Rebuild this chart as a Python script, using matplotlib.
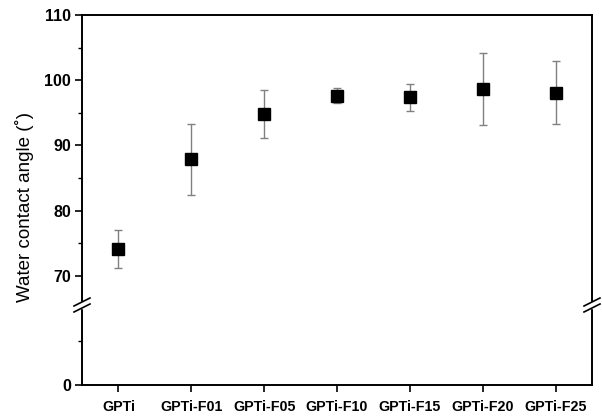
import matplotlib
matplotlib.use("Agg")
import matplotlib.pyplot as plt
from matplotlib.lines import Line2D
from matplotlib.ticker import FixedLocator

plt.rcParams["font.family"] = ["Liberation Sans", "DejaVu Sans"]

# Data
samples = ["GPTi", "GPTi-F01", "GPTi-F05", "GPTi-F10", "GPTi-F15", "GPTi-F20", "GPTi-F25"]
angle = [74.1, 87.9, 94.8, 97.6, 97.35, 98.6, 98.1]
angle_err = [2.9, 5.45, 3.7, 1.15, 2.1, 5.5, 4.9]

W, H = 602, 416
fig = plt.figure(figsize=(W / 100, H / 100), dpi=100)

left, right = 82, 592
top, brk, bottom = 15, 305, 385

ax_top = fig.add_axes([left / W, 1 - brk / H, (right - left) / W, (brk - top) / H])
ax_bot = fig.add_axes([left / W, 1 - bottom / H, (right - left) / W, (bottom - brk) / H])

x = list(range(len(samples)))
for ax in (ax_top, ax_bot):
    ax.errorbar(x, angle, yerr=angle_err, fmt="none", ecolor="#808080",
                elinewidth=1.0, capsize=3, capthick=1.0, zorder=2)
    ax.plot(x, angle, "s", color="black", markersize=8, zorder=3)
    ax.set_xlim(-0.5, 6.5)
    for s in ax.spines.values():
        s.set_linewidth(1.4)
    ax.tick_params(axis="y", which="major", direction="out", length=5, width=1.2,
                   pad=3, right=False)
    ax.tick_params(axis="y", which="minor", direction="out", length=3, width=1.0, right=False)

ax_top.set_ylim(65.5, 110)
ax_top.yaxis.set_major_locator(FixedLocator([70, 80, 90, 100, 110]))
ax_top.yaxis.set_minor_locator(FixedLocator([75, 85, 95, 105]))
ax_top.spines["bottom"].set_visible(False)
ax_top.tick_params(axis="x", bottom=False, labelbottom=False)
ax_top.set_yticklabels(["70", "80", "90", "100", "110"], fontweight="bold", fontsize=11.5)

ax_bot.set_ylim(0, 9)
ax_bot.yaxis.set_major_locator(FixedLocator([0]))
ax_bot.yaxis.set_minor_locator(FixedLocator([5]))
ax_bot.set_yticklabels(["0"], fontweight="bold", fontsize=11.5)
ax_bot.spines["top"].set_visible(False)
ax_bot.set_xticks(x)
ax_bot.set_xticklabels(samples, fontweight="bold", fontsize=10.3)
ax_bot.tick_params(axis="x", direction="out", length=5, width=1.2, pad=6, top=False)

# axis break marks
for xc in (left, right):
    fig.patches.append(plt.Rectangle(((xc - 2) / W, 1 - (brk + 3) / H), 4 / W, 6 / H,
                                     transform=fig.transFigure, color="white", zorder=5))
    for dy in (-3, 3):
        fig.lines.append(Line2D([(xc - 8) / W, (xc + 8) / W],
                                [1 - (brk + dy + 4) / H, 1 - (brk + dy - 4) / H],
                                transform=fig.transFigure, color="black", lw=1.2, zorder=6))

fig.text(25 / W, 1 - 207 / H, "Water contact angle (˚)", rotation=90,
         ha="center", va="center", fontsize=13.5)

fig.savefig("out.png", dpi=100)
